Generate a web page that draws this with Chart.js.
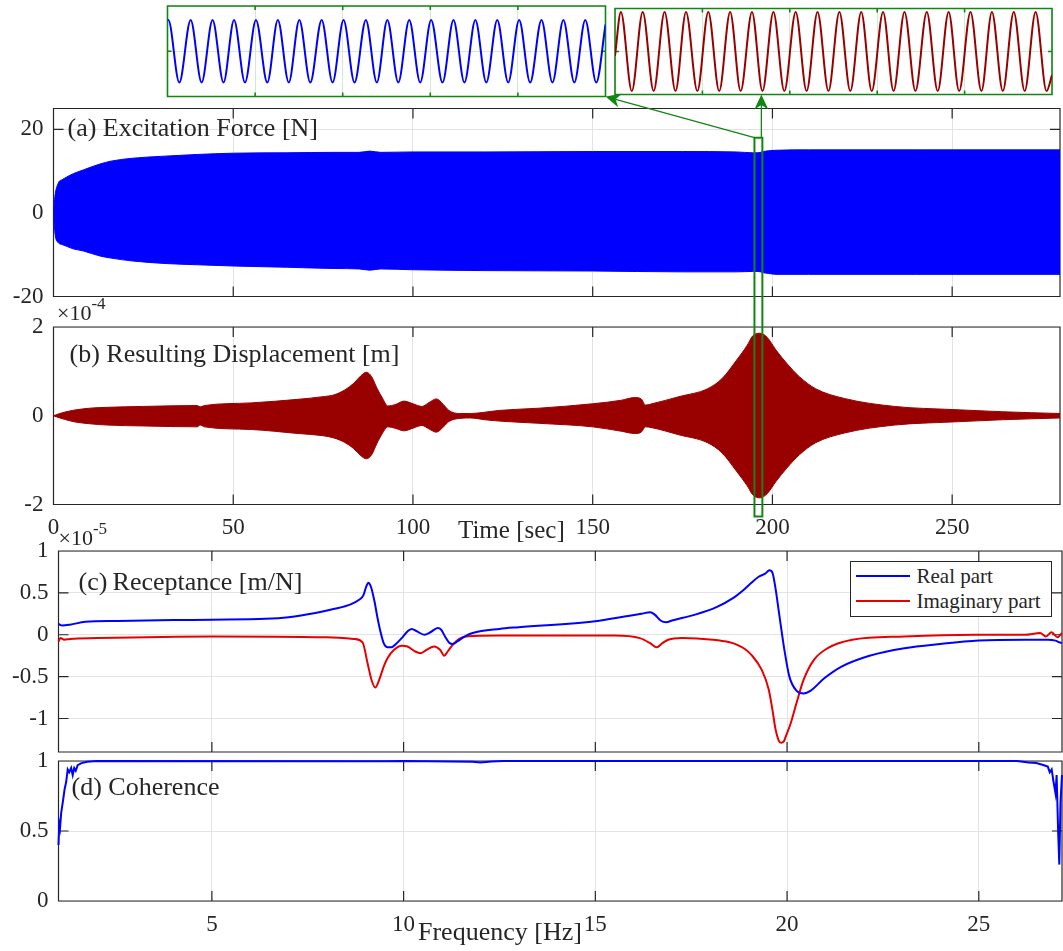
<!DOCTYPE html>
<html>
<head>
<meta charset="utf-8">
<title>Sine sweep test: force, displacement, receptance, coherence</title>
<script src="https://cdn.jsdelivr.net/npm/chart.js@4.4.1/dist/chart.umd.min.js"></script>
<style>
  body { margin: 0; background: #fff; }
  #wrap { position: relative; width: 1063px; height: 951px; overflow: hidden; background: #fff; }
  #wrap canvas { position: absolute; left: 0; top: 0; }
  .legend {
    position: absolute; left: 849.5px; top: 560.5px; width: 202px; height: 56px;
    box-sizing: border-box; margin: 0; padding: 2px 0 0 0; list-style: none;
    border: 1px solid #262626; background: #fff; z-index: 5;
    font: 21px 'Liberation Serif', 'Times New Roman', serif; color: #262626;
  }
  .legend-item { display: flex; align-items: center; height: 25px; white-space: nowrap; }
  .legend-line { display: inline-block; width: 54px; height: 2px; margin: 0 7px 0 5px; }
</style>
</head>
<body>
<div id="wrap">
  <canvas id="inset-force" width="1063" height="951"></canvas>
  <canvas id="inset-disp" width="1063" height="951"></canvas>
  <canvas id="chart-force" width="1063" height="951"></canvas>
  <canvas id="chart-disp" width="1063" height="951"></canvas>
  <canvas id="chart-rec" width="1063" height="951"></canvas>
  <canvas id="chart-coh" width="1063" height="951"></canvas>
  <canvas id="zoom-marks" width="1063" height="951"></canvas>
  <ul id="legend-rec" class="legend"></ul>
</div>
<script>
/* ------------------------------
 * data
 * ------------------------------ */

// axis ticks
const timeTicks = [0, 50, 100, 150, 200, 250];
const freqTicks = [5, 10, 15, 20, 25];
const forceTicks = [-20, 0, 20];
const dispTicks = [-2, 0, 2];
const recTicks = [-1, -0.5, 0, 0.5, 1];
const cohTicks = [0, 0.5, 1];

// (a) excitation force, envelope of the sweep [N]
const forceT     = [0, 0.4, 1.3, 2.5, 3.7, 5.5, 8.3, 12.9, 16, 22, 31, 40, 50, 65, 78, 85, 88, 91, 100, 120, 150, 175, 190, 194.5, 196, 197.5, 199, 201, 210, 240, 280];
const forceUpper = [0, 4.0, 7.1, 8.0, 8.6, 9.4, 10.3, 11.7, 12.4, 13.1, 13.6, 14.0, 14.3, 14.4, 14.5, 14.5, 14.8, 14.5, 14.6, 14.6, 14.7, 14.7, 14.6, 14.4, 14.4, 14.7, 14.9, 15.0, 15.1, 15.1, 15.1];
const forceLower = [0, -4.8, -7.1, -7.6, -8.0, -8.6, -9.1, -10.3, -10.8, -11.5, -12.1, -12.4, -12.7, -13.0, -13.3, -13.4, -13.7, -13.4, -13.6, -13.8, -13.9, -14.1, -14.1, -14.0, -14.0, -14.3, -14.5, -14.7, -14.7, -14.7, -14.7];

// (b) response displacement, envelope [x1e-4 m]
const dispT     = [0, 1, 3, 6, 10, 15, 25, 40, 40.8, 42, 55, 68, 75, 78, 81, 83.5, 85.5, 87, 88.5, 90, 91.5, 93, 95, 97.5, 100, 102.5, 104.5, 106.5, 108.5, 110, 113, 116, 120, 124, 135, 150, 158, 161.7, 163.5, 164.7, 166.5, 174, 182, 186, 190, 193, 194.5, 196.5, 198.5, 201, 204, 207.5, 212, 220, 234, 250, 264, 280];
const dispUpper = [0, 0.03, 0.08, 0.13, 0.17, 0.19, 0.21, 0.23, 0.20, 0.23, 0.29, 0.37, 0.43, 0.47, 0.58, 0.73, 0.90, 0.98, 0.88, 0.62, 0.40, 0.22, 0.25, 0.33, 0.27, 0.21, 0.30, 0.38, 0.25, 0.12, 0.05, 0.05, 0.08, 0.12, 0.17, 0.27, 0.35, 0.41, 0.38, 0.24, 0.27, 0.43, 0.61, 0.84, 1.25, 1.59, 1.80, 1.86, 1.77, 1.48, 1.18, 0.88, 0.61, 0.39, 0.21, 0.14, 0.09, 0.05];
const dispLower = [0, -0.03, -0.08, -0.14, -0.18, -0.21, -0.23, -0.25, -0.21, -0.25, -0.31, -0.40, -0.45, -0.50, -0.60, -0.74, -0.90, -0.97, -0.88, -0.62, -0.40, -0.25, -0.28, -0.34, -0.28, -0.22, -0.30, -0.37, -0.25, -0.13, -0.06, -0.05, -0.09, -0.12, -0.17, -0.25, -0.35, -0.40, -0.37, -0.25, -0.27, -0.43, -0.61, -0.84, -1.25, -1.58, -1.78, -1.85, -1.76, -1.48, -1.18, -0.88, -0.61, -0.39, -0.21, -0.14, -0.09, -0.05];

// marked window in (a)/(b) and the zoomed views above
const zoomWindow = [195.0, 197.2];     // [s]
const zoomRectTop = 18;                // [N], in (a)
const zoomRectBottom = -2.27;          // [x1e-4 m], in (b)
const insetRange = [196.0, 197.04];
const insetTicks = [196.0, 196.208, 196.416, 196.624, 196.832, 197.04];

// zoomed force: turning points of the sine [s], [N]
const forceZoomT = [196.000, 196.002, 196.028, 196.055, 196.081, 196.107, 196.133, 196.158, 196.184, 196.210, 196.237, 196.262, 196.288, 196.313, 196.339, 196.366, 196.392, 196.418, 196.444, 196.471, 196.497, 196.522, 196.548, 196.574, 196.600, 196.626, 196.653, 196.679, 196.705, 196.731, 196.757, 196.783, 196.809, 196.835, 196.861, 196.888, 196.914, 196.940, 196.966, 196.992, 197.018, 197.040];
const forceZoomF = [13.7, 13.8, -13.8, 13.8, -13.8, 13.8, -13.8, 13.8, -13.8, 13.8, -13.8, 13.8, -13.8, 13.8, -13.8, 13.8, -13.8, 13.8, -13.8, 13.8, -13.8, 13.8, -13.8, 13.8, -13.8, 13.8, -13.8, 13.8, -13.8, 13.8, -13.8, 13.8, -13.8, 13.8, -13.8, 13.8, -13.8, 13.8, -13.8, 13.8, -13.8, 11.7];

// zoomed displacement: turning points [s], [x1e-4 m]
const dispZoomT = [196.000, 196.014, 196.040, 196.066, 196.092, 196.118, 196.144, 196.169, 196.196, 196.222, 196.248, 196.274, 196.299, 196.326, 196.351, 196.377, 196.403, 196.430, 196.456, 196.482, 196.508, 196.534, 196.560, 196.586, 196.611, 196.638, 196.663, 196.689, 196.715, 196.742, 196.768, 196.794, 196.819, 196.846, 196.872, 196.897, 196.923, 196.949, 196.975, 197.001, 197.027, 197.040];
const dispZoomX = [-0.2, 1.84, -1.84, 1.84, -1.84, 1.84, -1.84, 1.84, -1.84, 1.84, -1.84, 1.84, -1.84, 1.84, -1.84, 1.84, -1.84, 1.84, -1.84, 1.84, -1.84, 1.84, -1.84, 1.84, -1.84, 1.84, -1.84, 1.84, -1.84, 1.84, -1.84, 1.84, -1.84, 1.84, -1.84, 1.84, -1.84, 1.84, -1.84, 1.84, -1.84, -1.1];

// (c) receptance [x1e-5 m/N]
const realFreq = [1.0, 1.1, 1.3, 1.7, 2.5, 4, 5, 6.4, 7, 7.7, 8.2, 8.6, 8.85, 8.95, 9.03, 9.08, 9.15, 9.24, 9.32, 9.40, 9.48, 9.58, 9.68, 9.8, 9.95, 10.1, 10.21, 10.35, 10.54, 10.7, 10.89, 10.98, 11.08, 11.2, 11.28, 11.4, 11.6, 11.8, 12.5, 13, 15, 15.8, 16.2, 16.43, 16.55, 16.7, 16.85, 17.0, 17.6, 18.16, 18.6, 18.88, 19.07, 19.25, 19.43, 19.54, 19.62, 19.7, 19.79, 19.93, 20.06, 20.25, 20.43, 20.61, 20.97, 21.42, 22.15, 23.06, 24, 25, 26.2, 26.8, 27.0, 27.1, 27.17];
const realPart = [0.13, 0.11, 0.12, 0.155, 0.165, 0.175, 0.18, 0.19, 0.21, 0.26, 0.31, 0.36, 0.42, 0.47, 0.58, 0.62, 0.57, 0.40, 0.20, 0.03, -0.10, -0.15, -0.15, -0.11, -0.04, 0.04, 0.07, 0.04, 0.0, 0.03, 0.08, 0.06, -0.02, -0.10, -0.11, -0.08, -0.02, 0.02, 0.07, 0.09, 0.16, 0.22, 0.25, 0.27, 0.24, 0.17, 0.15, 0.17, 0.24, 0.33, 0.44, 0.54, 0.62, 0.69, 0.73, 0.77, 0.74, 0.55, 0.26, -0.18, -0.50, -0.67, -0.70, -0.67, -0.52, -0.38, -0.25, -0.16, -0.11, -0.07, -0.06, -0.06, -0.07, -0.09, -0.10];
const imagFreq = [1.0, 1.05, 1.15, 1.3, 2, 5, 8, 8.7, 8.93, 9.06, 9.17, 9.26, 9.37, 9.48, 9.58, 9.75, 9.95, 10.1, 10.3, 10.45, 10.6, 10.8, 10.95, 11.06, 11.15, 11.28, 11.45, 11.63, 12.5, 14, 15.5, 16.16, 16.43, 16.6, 16.75, 16.9, 17.25, 18.07, 18.5, 18.7, 18.9, 19.07, 19.34, 19.52, 19.62, 19.7, 19.78, 19.84, 19.92, 19.97, 20.1, 20.25, 20.43, 20.7, 21.06, 21.7, 23.06, 24.9, 26.2, 26.6, 26.75, 26.9, 27.05, 27.17];
const imagPart = [-0.08, -0.04, -0.06, -0.05, -0.04, -0.02, -0.03, -0.05, -0.09, -0.34, -0.55, -0.63, -0.53, -0.38, -0.28, -0.18, -0.13, -0.14, -0.20, -0.22, -0.18, -0.14, -0.18, -0.25, -0.20, -0.12, -0.05, -0.02, -0.01, -0.01, -0.01, -0.04, -0.10, -0.15, -0.10, -0.06, -0.04, -0.06, -0.09, -0.12, -0.17, -0.24, -0.42, -0.65, -0.90, -1.13, -1.26, -1.29, -1.27, -1.21, -1.05, -0.81, -0.54, -0.30, -0.16, -0.06, -0.02, 0.0, 0.0, 0.02, -0.02, 0.03, -0.03, 0.02];

// (d) coherence
const cohFreq   = [1.0, 1.02, 1.04, 1.07, 1.12, 1.16, 1.2, 1.24, 1.28, 1.33, 1.37, 1.41, 1.45, 1.5, 1.6, 1.75, 2, 9.5, 10, 11.8, 12, 12.3, 12.6, 26, 26.3, 26.5, 26.7, 26.8, 26.85, 26.9, 26.95, 27.0, 27.03, 27.07, 27.1, 27.13, 27.17];
const coherence = [0.40, 0.55, 0.52, 0.63, 0.72, 0.80, 0.85, 0.94, 0.92, 0.95, 0.90, 0.95, 0.93, 0.97, 0.985, 0.995, 1.0, 0.998, 1.0, 0.995, 0.99, 0.997, 1.0, 1.0, 0.99, 0.985, 0.97, 0.96, 0.92, 0.94, 0.85, 0.77, 0.90, 0.49, 0.26, 0.7, 0.9];

/* ------------------------------
 * look
 * ------------------------------ */
const W = 1063, H = 951;
const X_AXIS_H = 48;          // room under each plot for the tick labels
const INK = '#262626';
const GRID = '#e3e3e3';
const GREEN = '#128612';
const INSET_GRID = '#d3e9d3';
const BLUE = '#0000ff';
const DARK_RED = '#990000';
const RED = '#e60000';
const FONT = "'Liberation Serif', 'Times New Roman', Times, serif";

// plot areas on the page
const BOX = {
  insetF: { left: 167.5, top: 6, right: 605.5, bottom: 96.5 },
  insetX: { left: 615, top: 8.5, right: 1052, bottom: 94.5 },
  force:  { left: 53.5, top: 108.5, right: 1060, bottom: 296.5 },
  disp:   { left: 53.5, top: 327, right: 1060, bottom: 504.5 },
  rec:    { left: 58.5, top: 551, right: 1062, bottom: 752 },
  coh:    { left: 58.5, top: 761, right: 1062, bottom: 901 }
};

Chart.defaults.font.family = FONT;
Chart.defaults.color = INK;

const pts = (xs, ys) => xs.map((x, i) => ({ x, y: ys[i] }));

/* ------------------------------
 * helpers
 * ------------------------------ */
function axisOptions(ax, fit) {
  return {
    type: 'linear',
    min: ax.min,
    max: ax.max,
    afterBuildTicks: s => { s.ticks = ax.ticks.map(v => ({ value: v })); },
    afterFit: fit,
    grid: { color: ax.grid || GRID, lineWidth: 1, drawTicks: false },
    border: { display: false },
    ticks: {
      display: !!ax.labels,
      autoSkip: false,
      maxRotation: 0,
      padding: ax.pad || 10,
      color: INK,
      font: { size: 23 },
      callback: v => String(v)
    }
  };
}

function baseOptions(box, xAxis, yAxis) {
  return {
    responsive: false,
    animation: false,
    events: [],
    layout: { padding: { left: 0, top: box.top, right: W - box.right, bottom: H - box.bottom - X_AXIS_H } },
    plugins: { legend: { display: false }, tooltip: { enabled: false } },
    elements: { point: { radius: 0 } },
    scales: {
      x: axisOptions(xAxis, s => { s.height = X_AXIS_H; }),
      y: axisOptions(yAxis, s => { s.width = box.left; })
    }
  };
}

// box + inward tick marks, drawn under the data
function framePlugin(color, width, len) {
  return {
    id: 'frame',
    beforeDatasetsDraw(chart) {
      const { ctx, chartArea: a, scales: { x, y } } = chart;
      ctx.save();
      ctx.strokeStyle = color;
      ctx.lineWidth = width;
      ctx.beginPath();
      x.ticks.forEach(t => {
        const px = x.getPixelForValue(t.value);
        ctx.moveTo(px, a.bottom); ctx.lineTo(px, a.bottom - len);
        ctx.moveTo(px, a.top); ctx.lineTo(px, a.top + len);
      });
      y.ticks.forEach(t => {
        const py = y.getPixelForValue(t.value);
        ctx.moveTo(a.left, py); ctx.lineTo(a.left + len, py);
        ctx.moveTo(a.right, py); ctx.lineTo(a.right - len, py);
      });
      ctx.rect(a.left, a.top, a.right - a.left, a.bottom - a.top);
      ctx.stroke();
      ctx.restore();
    }
  };
}

// panel captions, axis titles and the exponent labels
function notesPlugin(items) {
  return {
    id: 'notes',
    afterDraw(chart) {
      const { ctx, chartArea: a } = chart;
      ctx.save();
      ctx.fillStyle = INK;
      ctx.textAlign = 'left';
      ctx.textBaseline = 'alphabetic';
      items.forEach(it => {
        const x = a.left + it.dx;
        const y = (it.from === 'bottom' ? a.bottom : a.top) + it.dy;
        ctx.font = `${it.size}px ${FONT}`;
        ctx.fillText(it.text, x, y);
        if (it.sup) {
          const w = ctx.measureText(it.text).width;
          ctx.font = `${it.supSize}px ${FONT}`;
          ctx.fillText(it.sup, x + w, y - it.supRise);
        }
      });
      ctx.restore();
    }
  };
}

function createLegendFromDatasets(chart, targetId) {
  const box = document.getElementById(targetId);
  if (!box) return;
  let html = '';
  chart.data.datasets.forEach(ds => {
    html += `
      <li class="legend-item">
        <i class="legend-line" style="background:${ds.borderColor}"></i>
        <span>${ds.label}</span>
      </li>`;
  });
  box.innerHTML = html;
}

/* ------------------------------
 * zoomed windows (top)
 * ------------------------------ */
const insetForce = new Chart(document.getElementById('inset-force'), {
  type: 'line',
  data: {
    datasets: [{
      data: pts(forceZoomT, forceZoomF),
      borderColor: BLUE, borderWidth: 2, cubicInterpolationMode: 'monotone', fill: false
    }]
  },
  options: baseOptions(BOX.insetF,
    { min: insetRange[0], max: insetRange[1], ticks: insetTicks, grid: INSET_GRID },
    { min: -20, max: 20, ticks: forceTicks, grid: INSET_GRID }),
  plugins: [framePlugin(GREEN, 1.6, 4)]
});

const insetDisp = new Chart(document.getElementById('inset-disp'), {
  type: 'line',
  data: {
    datasets: [{
      data: pts(dispZoomT, dispZoomX),
      borderColor: DARK_RED, borderWidth: 2, cubicInterpolationMode: 'monotone', fill: false
    }]
  },
  options: baseOptions(BOX.insetX,
    { min: insetRange[0], max: insetRange[1], ticks: insetTicks, grid: INSET_GRID },
    { min: -2, max: 2, ticks: dispTicks, grid: INSET_GRID }),
  plugins: [framePlugin(GREEN, 1.6, 4)]
});

/* ------------------------------
 * (a) excitation force
 * ------------------------------ */
const chartForce = new Chart(document.getElementById('chart-force'), {
  type: 'line',
  data: {
    datasets: [
      { data: pts(forceT, forceUpper), borderColor: BLUE, backgroundColor: BLUE, borderWidth: 1, fill: '+1', cubicInterpolationMode: 'monotone' },
      { data: pts(forceT, forceLower), borderColor: BLUE, borderWidth: 1, fill: false, cubicInterpolationMode: 'monotone' }
    ]
  },
  options: baseOptions(BOX.force,
    { min: 0, max: 280, ticks: timeTicks },
    { min: -20, max: 25, ticks: forceTicks, labels: true }),
  plugins: [
    framePlugin(INK, 1.2, 10),
    notesPlugin([{ text: '(a) Excitation Force [N]', dx: 14, dy: 27.5, size: 26 }])
  ]
});

/* ------------------------------
 * (b) resulting displacement
 * ------------------------------ */
const chartDisp = new Chart(document.getElementById('chart-disp'), {
  type: 'line',
  data: {
    datasets: [
      { data: pts(dispT, dispUpper), borderColor: DARK_RED, backgroundColor: DARK_RED, borderWidth: 1, fill: '+1', cubicInterpolationMode: 'monotone' },
      { data: pts(dispT, dispLower), borderColor: DARK_RED, borderWidth: 1, fill: false, cubicInterpolationMode: 'monotone' }
    ]
  },
  options: baseOptions(BOX.disp,
    { min: 0, max: 280, ticks: timeTicks, labels: true, pad: 10 },
    { min: -2, max: 2, ticks: dispTicks, labels: true }),
  plugins: [
    framePlugin(INK, 1.2, 10),
    notesPlugin([
      { text: '(b) Resulting Displacement [m]', dx: 16, dy: 34.5, size: 26 },
      { text: '\u00d710', sup: '-4', dx: 3.5, dy: -7, size: 22, supSize: 17, supRise: 11 },
      { text: 'Time [sec]', from: 'bottom', dx: 404.5, dy: 33, size: 25 }
    ])
  ]
});

/* ------------------------------
 * (c) receptance
 * ------------------------------ */
const chartRec = new Chart(document.getElementById('chart-rec'), {
  type: 'line',
  data: {
    datasets: [
      { label: 'Real part', data: pts(realFreq, realPart), borderColor: BLUE, borderWidth: 2, fill: false, cubicInterpolationMode: 'monotone', clip: 3 },
      { label: 'Imaginary part', data: pts(imagFreq, imagPart), borderColor: RED, borderWidth: 2, fill: false, cubicInterpolationMode: 'monotone', clip: 3 }
    ]
  },
  options: baseOptions(BOX.rec,
    { min: 1, max: 27.17, ticks: freqTicks },
    { min: -1.4, max: 1, ticks: recTicks, labels: true }),
  plugins: [
    framePlugin(INK, 1.2, 10),
    notesPlugin([
      { text: '(c)\u2009Receptance [m/N]', dx: 20, dy: 39, size: 26 },
      { text: '\u00d710', sup: '-5', dx: 0, dy: -6, size: 22, supSize: 17, supRise: 11 }
    ])
  ]
});

createLegendFromDatasets(chartRec, 'legend-rec');

/* ------------------------------
 * (d) coherence
 * ------------------------------ */
const chartCoh = new Chart(document.getElementById('chart-coh'), {
  type: 'line',
  data: {
    datasets: [
      { data: pts(cohFreq, coherence), borderColor: BLUE, borderWidth: 2, fill: false, clip: 3 }
    ]
  },
  options: baseOptions(BOX.coh,
    { min: 1, max: 27.17, ticks: freqTicks, labels: true, pad: 10 },
    { min: 0, max: 1, ticks: cohTicks, labels: true }),
  plugins: [
    framePlugin(INK, 1.2, 10),
    notesPlugin([
      { text: '(d) Coherence', dx: 13, dy: 34, size: 26 },
      { text: 'Frequency [Hz]', from: 'bottom', dx: 359.5, dy: 39, size: 26 }
    ])
  ]
});

/* ------------------------------
 * zoom marker: window box + arrows to the zoomed views
 * ------------------------------ */
function arrow(ctx, x0, y0, x1, y1) {
  const len = 15, half = 7, notch = 0.7;
  const ang = Math.atan2(y1 - y0, x1 - x0);
  const ux = Math.cos(ang), uy = Math.sin(ang);
  ctx.beginPath();
  ctx.moveTo(x0, y0);
  ctx.lineTo(x1 - ux * len * notch, y1 - uy * len * notch);
  ctx.stroke();
  ctx.beginPath();
  ctx.moveTo(x1, y1);
  ctx.lineTo(x1 - ux * len - uy * half, y1 - uy * len + ux * half);
  ctx.lineTo(x1 - ux * len * notch, y1 - uy * len * notch);
  ctx.lineTo(x1 - ux * len + uy * half, y1 - uy * len - ux * half);
  ctx.closePath();
  ctx.fill();
}

function drawZoomMarks() {
  const ctx = document.getElementById('zoom-marks').getContext('2d');
  const xs = chartForce.scales.x;
  const x0 = xs.getPixelForValue(zoomWindow[0]);
  const x1 = xs.getPixelForValue(zoomWindow[1]);
  const y0 = chartForce.scales.y.getPixelForValue(zoomRectTop);
  const y1 = chartDisp.scales.y.getPixelForValue(zoomRectBottom);
  const fa = insetForce.chartArea, da = insetDisp.chartArea;

  ctx.save();
  ctx.strokeStyle = GREEN;
  ctx.fillStyle = GREEN;
  ctx.lineWidth = 2;
  ctx.strokeRect(x0, y0, x1 - x0, y1 - y0);
  ctx.lineWidth = 1.3;
  arrow(ctx, x0, y0, fa.right, fa.bottom);
  arrow(ctx, x1 - 1, y0, x1 - 1, da.bottom);
  ctx.restore();
}

drawZoomMarks();
</script>
</body>
</html>
